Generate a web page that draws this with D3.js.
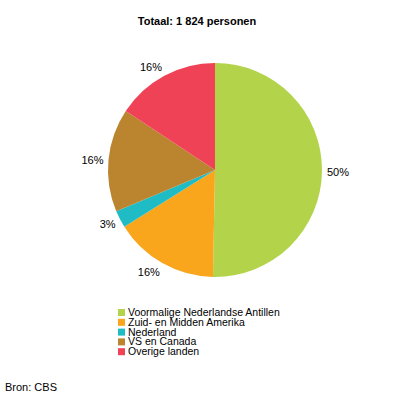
<!DOCTYPE html>
<html>
<head>
<meta charset="utf-8">
<script src="https://cdn.jsdelivr.net/npm/d3@7"></script>
<style>
  body { margin: 0; background: #fff; }
  text { font-family: "Liberation Sans", Arial, sans-serif; }
</style>
</head>
<body>
<svg width="396" height="398"></svg>
<script>
var categories = ["Voormalige Nederlandse Antillen", "Zuid- en Midden Amerika", "Nederland", "VS en Canada", "Overige landen"];
var values = [50.3, 15.8, 2.6, 15.6, 15.7];
var colors = ["#b3d44a", "#f9a61d", "#1fbcc6", "#bb8530", "#f04257"];
var title = "Totaal: 1 824 personen";
var source = "Bron: CBS";

var svg = d3.select("svg"),
  width = +svg.attr("width"),
  height = +svg.attr("height");

var cx = 215, cy = 170, r = 107;

svg.append("text")
  .attr("x", 197)
  .attr("y", 25)
  .attr("text-anchor", "middle")
  .style("font-size", "11px")
  .style("font-weight", "bold")
  .text(title);

var pie = d3.pie().sort(null).value(function(d) { return d; });
var arcs = pie(values);
var arc = d3.arc().innerRadius(0).outerRadius(r);
var labelArc = d3.arc().innerRadius(r + 5).outerRadius(r + 5);

var g = svg.append("g").attr("transform", "translate(" + cx + "," + cy + ")");

g.selectAll("path")
  .data(arcs)
  .enter().append("path")
  .attr("d", arc)
  .attr("fill", function(d, i) { return colors[i]; });

g.selectAll("text")
  .data(arcs)
  .enter().append("text")
  .attr("x", function(d) { return labelArc.centroid(d)[0]; })
  .attr("y", function(d) {
    var a = (d.startAngle + d.endAngle) / 2;
    return labelArc.centroid(d)[1] + 3 - 6 * Math.cos(a) * Math.abs(Math.cos(a)) + 2 * Math.abs(Math.sin(a));
  })
  .attr("text-anchor", function(d) {
    return labelArc.centroid(d)[0] < 0 ? "end" : "start";
  })
  .style("font-size", "11px")
  .text(function(d) { return d3.format(".0f")(d.value) + "%"; });

var legend = svg.append("g").attr("transform", "translate(118,309)");
var row = legend.selectAll("g")
  .data(categories)
  .enter().append("g")
  .attr("transform", function(d, i) { return "translate(0," + (i * 9.8) + ")"; });

row.append("rect")
  .attr("width", 7)
  .attr("height", 7)
  .attr("fill", function(d, i) { return colors[i]; });

row.append("text")
  .attr("x", 10)
  .attr("y", 7)
  .style("font-size", "10.5px")
  .text(function(d) { return d; });

svg.append("text")
  .attr("x", 5)
  .attr("y", 391)
  .style("font-size", "11px")
  .text(source);
</script>
</body>
</html>
